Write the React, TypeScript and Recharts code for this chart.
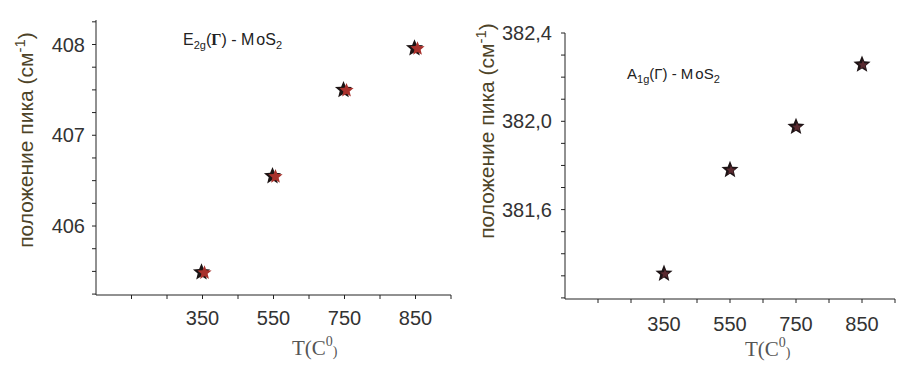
import React from "react";
import { ScatterChart, Scatter, XAxis, YAxis } from "recharts";

// annealing temperatures, plotted as evenly spaced categories
const temps = ["350", "550", "750", "850"];
const tempSlots = [1, 2, 3, 4];
const xTicks = [0, 0.5, 1, 1.5, 2, 2.5, 3, 3.5, 4, 4.5];

// peak positions, cm^-1
const e2gPeak = [405.49, 406.55, 407.5, 407.96];
const a1gPeak = [381.31, 381.78, 381.975, 382.257];

const e2gTicks = [405.25, 405.5, 405.75, 406, 406.25, 406.5, 406.75, 407, 407.25, 407.5, 407.75, 408, 408.25];
const e2gLabels = [406, 407, 408];
const a1gTicks = [381.2, 381.3, 381.4, 381.5, 381.6, 381.7, 381.8, 381.9, 382.0, 382.1, 382.2, 382.3, 382.4];
const a1gLabels = [381.6, 382.0, 382.4];

const e2gData = tempSlots.map((x, i) => ({ x, y: e2gPeak[i] }));
const a1gData = tempSlots.map((x, i) => ({ x, y: a1gPeak[i] }));

const starPath = (cx: number, cy: number, r: number, ri: number) => {
  let d = "";
  for (let k = 0; k < 10; k++) {
    const a = -Math.PI / 2 + (k * Math.PI) / 5;
    const rr = k % 2 === 0 ? r : ri;
    d += (k === 0 ? "M" : "L") + (cx + rr * Math.cos(a)).toFixed(2) + "," + (cy + rr * Math.sin(a)).toFixed(2);
  }
  return d + "Z";
};

const RedStar = (p: any) => (
  <g>
    <path d={starPath(p.cx - 1, p.cy, 9, 4)} fill="#1c1414" />
    <path d={starPath(p.cx + 2, p.cy + 0.5, 7.5, 3.3)} fill="#a8312c" />
  </g>
);

const DarkStar = (p: any) => (
  <g>
    <path d={starPath(p.cx, p.cy, 9, 4)} fill="#1e1416" />
    <path d={starPath(p.cx + 1, p.cy + 0.5, 5, 2.2)} fill="#5a2a30" />
  </g>
);

const xFmt = (v: number) => (Number.isInteger(v) && v >= 1 && v <= 4 ? temps[v - 1] : "");
const pick = (labels: number[], fmt: (v: number) => string) => (v: number) =>
  labels.some((l) => Math.abs(l - v) < 1e-6) ? fmt(v) : "";

const axisStroke = "#222";
const tickStyle = { fill: "#333", fontSize: 20, fontFamily: "Liberation Sans, Arial, sans-serif" };
const labelColor = "#4d4327";

export default function App() {
  return (
    <div style={{ position: "absolute", left: 0, top: 0, width: 912, height: 367, background: "#fff" }}>
      <div style={{ position: "absolute", left: 0, top: 0 }}>
        <ScatterChart width={456} height={367} margin={{ top: 20, right: 5, bottom: 42, left: 36 }}>
          <XAxis
            dataKey="x"
            type="number"
            domain={[-0.5, 4.5]}
            ticks={xTicks}
            interval={0}
            tickFormatter={xFmt}
            height={30}
            tickSize={4}
            tickMargin={12}
            stroke={axisStroke}
            tick={tickStyle}
          />
          <YAxis
            dataKey="y"
            type="number"
            domain={[405.24, 408.27]}
            ticks={e2gTicks}
            interval={0}
            tickFormatter={pick(e2gLabels, (v) => String(v))}
            width={60}
            tickSize={4}
            tickMargin={7}
            stroke={axisStroke}
            tick={tickStyle}
          />
          <Scatter data={e2gData} shape={RedStar} isAnimationActive={false} />
        </ScatterChart>
      </div>
      <div style={{ position: "absolute", left: 456, top: 0 }}>
        <ScatterChart width={456} height={367} margin={{ top: 33, right: 17, bottom: 38, left: 39 }}>
          <XAxis
            dataKey="x"
            type="number"
            domain={[-0.5, 4.5]}
            ticks={xTicks}
            interval={0}
            tickFormatter={xFmt}
            height={30}
            tickSize={4}
            tickMargin={14}
            stroke={axisStroke}
            tick={tickStyle}
          />
          <YAxis
            dataKey="y"
            type="number"
            domain={[381.195, 382.4]}
            ticks={a1gTicks}
            interval={0}
            tickFormatter={pick(a1gLabels, (v) => v.toFixed(1).replace(".", ","))}
            width={70}
            tickSize={4}
            tickMargin={9}
            stroke={axisStroke}
            tick={tickStyle}
          />
          <Scatter data={a1gData} shape={DarkStar} isAnimationActive={false} />
        </ScatterChart>
      </div>

      <svg width={912} height={367} style={{ position: "absolute", left: 0, top: 0, pointerEvents: "none" }}>
        <g fontFamily="Liberation Sans, Arial, sans-serif" fontSize={21} fill={labelColor}>
          <text transform="translate(33,140) rotate(-90)" textAnchor="middle">
            положение пика (см<tspan dy={-8} fontSize={15}>-1</tspan>
            <tspan dy={8}>)</tspan>
          </text>
          <text transform="translate(494,131) rotate(-90)" textAnchor="middle">
            положение пика (см<tspan dy={-8} fontSize={15}>-1</tspan>
            <tspan dy={8}>)</tspan>
          </text>
        </g>

        <g fontFamily="Liberation Sans, Arial, sans-serif" fill="#222">
          <text x={183} y={45} fontSize={16}>
            E<tspan dy={4} fontSize={11}>2g</tspan>
            <tspan dy={-4}>(</tspan>
            <tspan fontFamily="Liberation Serif, serif" fontWeight="bold">Γ</tspan>) - M
            <tspan dx={2}>oS</tspan>
            <tspan dy={4} fontSize={11}>2</tspan>
          </text>
          <text x={627} y={79} fontSize={15}>
            A<tspan dy={4} fontSize={11}>1g</tspan>
            <tspan dy={-4}>(Γ) - M</tspan>
            <tspan dx={2}>oS</tspan>
            <tspan dy={4} fontSize={11}>2</tspan>
          </text>
        </g>

        <g fontFamily="Liberation Serif, Times New Roman, serif" fontSize={21} fill="#555">
          <text x={292} y={355}>
            T(C<tspan dy={-9} fontSize={14}>0</tspan>
            <tspan dy={10} fontSize={14}>)</tspan>
          </text>
          <text x={745} y={356}>
            T(C<tspan dy={-9} fontSize={14}>0</tspan>
            <tspan dy={10} fontSize={14}>)</tspan>
          </text>
        </g>
      </svg>
    </div>
  );
}
